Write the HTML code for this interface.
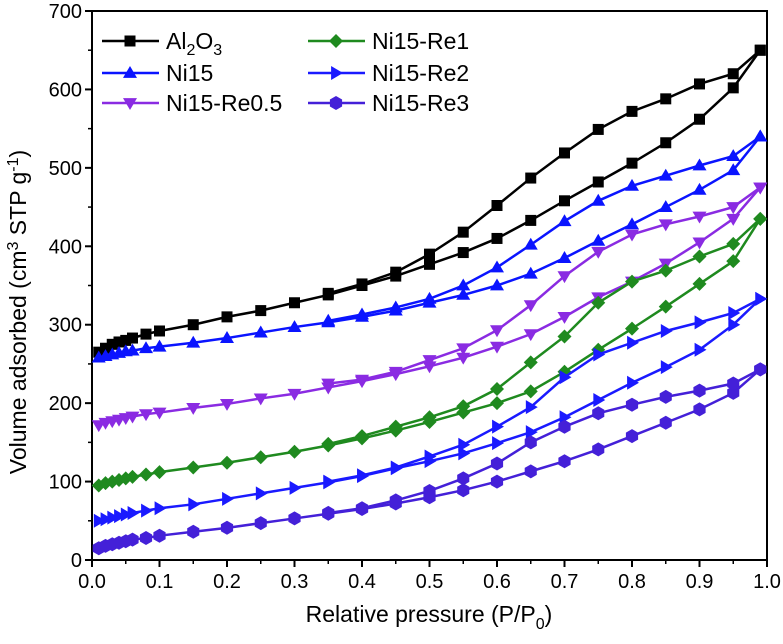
<!DOCTYPE html>
<html><head><meta charset="utf-8"><style>
html,body{margin:0;padding:0;background:#fff}
svg text{font-family:"Liberation Sans Narrow","Liberation Sans",Arial,sans-serif}
</style></head><body>
<svg id="chart" width="783" height="639" viewBox="0 0 783 639" xmlns="http://www.w3.org/2000/svg">
<g id="axes"></g>
<g id="series"></g>
<g id="legend"></g>
<text x="429" y="622" text-anchor="middle" font-size="23">Relative pressure (P/P<tspan font-size="16" dy="7">0</tspan><tspan dy="-7">)</tspan></text>
<text transform="translate(26,312) rotate(-90)" text-anchor="middle" font-size="23">Volume adsorbed (cm<tspan font-size="16" dy="-8">3</tspan><tspan dy="8"> STP g</tspan><tspan font-size="16" dy="-8">-1</tspan><tspan dy="8">)</tspan></text>
</svg>
<script>
const xTicks=[0,0.1,0.2,0.3,0.4,0.5,0.6,0.7,0.8,0.9,1.0];
const xTickLabels=["0.0","0.1","0.2","0.3","0.4","0.5","0.6","0.7","0.8","0.9","1.0"];
const yTicks=[0,100,200,300,400,500,600,700];
const adsP=[0.01,0.02,0.03,0.04,0.05,0.06,0.08,0.1,0.15,0.2,0.25,0.3,0.35,0.4,0.45,0.5,0.55,0.6,0.65,0.7,0.75,0.8,0.85,0.9,0.95,0.99];
const desP=[0.99,0.95,0.9,0.85,0.8,0.75,0.7,0.65,0.6,0.55,0.5,0.45,0.4,0.35];
const al2o3Ads=[265,270,275,278,280,283,288,292,300,310,318,328,338,350,362,377,392,410,433,458,482,506,532,562,602,650];
const al2o3Des=[650,620,607,588,572,549,519,487,452,418,390,367,352,340];
const ni15Ads=[258,260,262,264,266,267,270,272,277,283,290,297,303,310,318,328,338,350,365,385,407,428,450,472,497,540];
const ni15Des=[540,515,503,490,477,458,432,402,373,350,333,322,313,305];
const re05Ads=[172,175,177,179,181,183,186,188,194,199,206,212,220,228,237,247,258,272,288,310,335,355,378,405,435,475];
const re05Des=[475,450,438,428,415,393,362,325,293,270,255,240,230,225];
const re1Ads=[95,98,100,102,104,106,109,112,118,124,131,138,146,155,165,176,188,200,215,240,268,295,323,352,381,435];
const re1Des=[435,403,387,369,355,328,285,252,218,196,182,170,158,148];
const re2Ads=[50,52,54,56,58,60,63,66,71,78,85,92,99,107,117,126,136,149,163,182,204,226,246,268,300,333];
const re2Des=[333,315,303,292,277,262,233,195,170,147,132,118,108,100];
const re3Ads=[15,18,20,22,24,26,28,31,36,41,47,53,59,65,72,80,89,100,113,126,141,158,175,192,213,243];
const re3Des=[243,225,216,208,198,187,170,150,123,104,88,76,66,60];

const NS="http://www.w3.org/2000/svg";
const X0=92,X1=767,Y0=560,Y1=11;
const sx=v=>X0+(X1-X0)*v;
const sy=v=>Y0-(Y0-Y1)*v/700;
function mk(tag,attrs,parent){const e=document.createElementNS(NS,tag);for(const k in attrs)e.setAttribute(k,attrs[k]);parent.appendChild(e);return e;}
const axes=document.getElementById('axes');
const frame=mk('rect',{x:X0,y:Y1,width:X1-X0,height:Y0-Y1,fill:'none',stroke:'#000','stroke-width':2},axes);


xTicks.forEach((t,i)=>{
  const l=mk('line',{x1:sx(t),x2:sx(t),y1:Y0,y2:Y0+7,stroke:'#000','stroke-width':2},axes);
  
  
  if(i<xTicks.length-1){const m=mk('line',{x1:sx(t+0.05),x2:sx(t+0.05),y1:Y0,y2:Y0+4,stroke:'#000','stroke-width':1.5},axes);
  
  }
  const tx=mk('text',{x:sx(t),y:Y0+28,'text-anchor':'middle','font-size':20},axes);
  
  
  tx.textContent=xTickLabels[i];
});
yTicks.forEach((t,i)=>{
  const l=mk('line',{x1:X0-7,x2:X0,y1:sy(t),y2:sy(t),stroke:'#000','stroke-width':2},axes);
  
  
  if(i<yTicks.length-1){const m=mk('line',{x1:X0-4,x2:X0,y1:sy(t+50),y2:sy(t+50),stroke:'#000','stroke-width':1.5},axes);
  
  }
  const tx=mk('text',{x:X0-10,y:sy(t)+7,'text-anchor':'end','font-size':20},axes);
  
  
  tx.textContent=String(t);
});
function marker(type,x,y,color,g){
  const r=7;let e;
  if(type==='square')e=mk('rect',{x:x-5.5,y:y-5.5,width:11,height:11,fill:color},g);
  else if(type==='up')e=mk('polygon',{points:`${x},${y-r} ${x-r},${y+r*0.7} ${x+r},${y+r*0.7}`,fill:color},g);
  else if(type==='down')e=mk('polygon',{points:`${x},${y+r} ${x-r},${y-r*0.7} ${x+r},${y-r*0.7}`,fill:color},g);
  else if(type==='diamond')e=mk('polygon',{points:`${x},${y-r} ${x+r},${y} ${x},${y+r} ${x-r},${y}`,fill:color},g);
  else if(type==='right')e=mk('polygon',{points:`${x+r},${y} ${x-r*0.7},${y-r} ${x-r*0.7},${y+r}`,fill:color},g);
  else {let p=[];for(let k=0;k<6;k++){const a=Math.PI/3*k+Math.PI/6;p.push((x+r*Math.cos(a)).toFixed(1)+','+(y+r*Math.sin(a)).toFixed(1));}e=mk('polygon',{points:p.join(' '),fill:color},g);}
  
  
}
const seriesDefs=[
 {name:'al2o3',color:'#000000',m:'square',ads:al2o3Ads,des:al2o3Des},
 {name:'ni15',color:'#0a14ff',m:'up',ads:ni15Ads,des:ni15Des},
 {name:'ni15-re0-5',color:'#8a2be2',m:'down',ads:re05Ads,des:re05Des},
 {name:'ni15-re1',color:'#1f8a1f',m:'diamond',ads:re1Ads,des:re1Des},
 {name:'ni15-re2',color:'#1a1aff',m:'right',ads:re2Ads,des:re2Des},
 {name:'ni15-re3',color:'#4420d8',m:'hex',ads:re3Ads,des:re3Des}
];
const sg=document.getElementById('series');
seriesDefs.forEach(s=>{
  const g=mk('g',{},sg);
  
  
  [[adsP,s.ads],[desP,s.des]].forEach(([px,py],bi)=>{
    const pl=mk('polyline',{points:px.map((p,i)=>sx(p)+','+sy(py[i])).join(' '),fill:'none',stroke:s.color,'stroke-width':2.5},g);
    
    
    px.forEach((p,i)=>marker(s.m,sx(p),sy(py[i]),s.color,g));
  });
});
const lg=document.getElementById('legend');
const legendItems=[
 {i:0,x:102,y:41,label:'Al2O3'},{i:1,x:102,y:73,label:'Ni15'},{i:2,x:102,y:103,label:'Ni15-Re0.5'},
 {i:3,x:308,y:41,label:'Ni15-Re1'},{i:4,x:308,y:73,label:'Ni15-Re2'},{i:5,x:308,y:103,label:'Ni15-Re3'}];
legendItems.forEach(it=>{
  const s=seriesDefs[it.i];
  const g=mk('g',{},lg);
  
  
  mk('line',{x1:it.x,x2:it.x+57,y1:it.y,y2:it.y,stroke:s.color,'stroke-width':2.5},g);
  marker(s.m,it.x+28,it.y,s.color,g);
  const t=mk('text',{x:it.x+64,y:it.y+8,'font-size':23},g);
  
  
  if(it.label==='Al2O3'){t.innerHTML='Al<tspan font-size="16" dy="6">2</tspan><tspan dy="-6">O</tspan><tspan font-size="16" dy="6">3</tspan>';}
  else t.textContent=it.label;
});
</script>
</body></html>
